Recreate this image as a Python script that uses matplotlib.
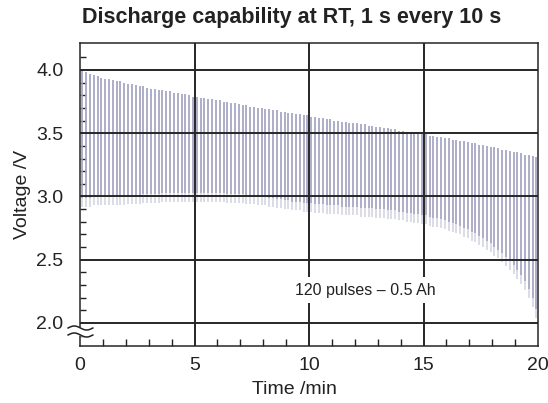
import matplotlib.pyplot as plt
import numpy as np

plt.rcParams['font.family'] = ['Liberation Sans', 'DejaVu Sans']

# rest voltage (top of each pulse) and pulse voltage (bottom), 6 pulses per minute
v_top = [3.99, 3.98, 3.97, 3.96, 3.95, 3.94,
         3.93, 3.93, 3.92, 3.91, 3.91, 3.90,
         3.89, 3.89, 3.88, 3.87, 3.87, 3.86,
         3.85, 3.85, 3.84, 3.84, 3.83, 3.83,
         3.82, 3.82, 3.81, 3.81, 3.80, 3.79,
         3.79, 3.78, 3.78, 3.77, 3.77, 3.76,
         3.76, 3.75, 3.75, 3.74, 3.74, 3.73,
         3.72, 3.72, 3.71, 3.71, 3.70, 3.70,
         3.69, 3.69, 3.68, 3.68, 3.67, 3.67,
         3.66, 3.66, 3.65, 3.65, 3.64, 3.64,
         3.63, 3.63, 3.62, 3.62, 3.61, 3.61,
         3.60, 3.60, 3.59, 3.59, 3.58, 3.58,
         3.58, 3.57, 3.57, 3.56, 3.56, 3.55,
         3.55, 3.54, 3.54, 3.53, 3.53, 3.52,
         3.52, 3.51, 3.51, 3.50, 3.50, 3.49,
         3.49, 3.48, 3.48, 3.47, 3.47, 3.46,
         3.46, 3.45, 3.45, 3.44, 3.44, 3.43,
         3.42, 3.42, 3.41, 3.41, 3.40, 3.39,
         3.39, 3.38, 3.37, 3.37, 3.36, 3.35,
         3.35, 3.34, 3.33, 3.33, 3.32, 3.31]

v_bottom = [2.92, 2.92, 2.92, 2.93, 2.93, 2.93,
            2.93, 2.93, 2.93, 2.93, 2.93, 2.93,
            2.94, 2.94, 2.94, 2.94, 2.95, 2.95,
            2.95, 2.95, 2.95, 2.96, 2.96, 2.96,
            2.96, 2.96, 2.96, 2.96, 2.96, 2.96,
            2.96, 2.96, 2.96, 2.96, 2.96, 2.96,
            2.96, 2.96, 2.95, 2.95, 2.95, 2.95,
            2.95, 2.94, 2.94, 2.94, 2.93, 2.93,
            2.93, 2.92, 2.92, 2.91, 2.91, 2.90,
            2.90, 2.89, 2.89, 2.89, 2.88, 2.88,
            2.88, 2.87, 2.87, 2.87, 2.86, 2.86,
            2.86, 2.86, 2.85, 2.85, 2.85, 2.85,
            2.85, 2.84, 2.84, 2.84, 2.84, 2.83,
            2.83, 2.83, 2.82, 2.82, 2.82, 2.81,
            2.81, 2.80, 2.80, 2.79, 2.79, 2.78,
            2.78, 2.77, 2.76, 2.76, 2.75, 2.74,
            2.73, 2.72, 2.71, 2.70, 2.68, 2.67,
            2.65, 2.64, 2.62, 2.60, 2.58, 2.56,
            2.53, 2.51, 2.48, 2.45, 2.42, 2.39,
            2.35, 2.31, 2.26, 2.20, 2.13, 2.04]

# one pulse every 10 s
t_pulse = np.arange(len(v_top)) / 6 + 0.1

x_ticks = [0, 5, 10, 15, 20]
y_ticks = [2.0, 2.5, 3.0, 3.5, 4.0]

fig = plt.figure(figsize=(5.48, 4.03), dpi=100)
ax = fig.add_axes([80/548, 57/403, 458/548, 303/403])

top = np.array(v_top)
bot = np.array(v_bottom)
tail = 0.07
ax.vlines(t_pulse, bot, top, color='#d6d6e2', lw=1.2, zorder=1)
ax.vlines(t_pulse, bot + tail, top, color='#a6a6c4', lw=1.2, zorder=2)

ax.set_xlim(0, 20)
ax.set_ylim(1.818, 4.213)
ax.set_xticks(x_ticks)
ax.set_yticks(y_ticks)
ax.set_yticklabels(['%.1f' % v for v in y_ticks])
ax.set_xticks(np.arange(0, 21, 1), minor=True)
ax.set_yticks(np.arange(1.9, 4.2, 0.1), minor=True)

for v in y_ticks:
    ax.axhline(v, color='#262626', lw=1.4, zorder=3)
for t in x_ticks[1:-1]:
    ax.axvline(t, color='#262626', lw=1.4, zorder=3)

ax.tick_params(axis='both', which='both', direction='in', top=False, right=False,
               colors='#222222', labelsize=14)
ax.tick_params(axis='y', which='major', length=0, pad=12)
ax.tick_params(axis='y', which='minor', length=4.5, width=1)
ax.tick_params(axis='x', which='major', length=0, pad=8)
ax.tick_params(axis='x', which='minor', length=5, width=1)
for s in ax.spines.values():
    s.set_color('#262626')
    s.set_linewidth(1.1)
    s.set_zorder(4)

ax.text(12.45, 2.26, '120 pulses \u2013 0.5 Ah', ha='center', va='center', fontsize=11.5,
        color='#222222', zorder=5,
        bbox=dict(facecolor='white', edgecolor='none', pad=4))

ax.set_xlabel('Time /min', fontsize=14, color='#222222', labelpad=3)
ax.xaxis.set_label_coords(0.469, -0.115)
ax.set_ylabel('Voltage /V', fontsize=14, color='#222222', labelpad=4)
fig.text(0.533, 0.957, 'Discharge capability at RT, 1 s every 10 s', ha='center',
         va='center', fontsize=15.5, fontweight='bold', color='#222222')

# axis break mark on the left spine
xs = np.linspace(-0.026, 0.028, 40)
wave = 0.0066 * np.sin((xs - xs[0]) / (xs[-1] - xs[0]) * 2 * np.pi)
y1 = 0.0594 + wave
y2 = 0.0363 + wave
ax.fill_between(xs, y2, y1, color='white', transform=ax.transAxes, clip_on=False, zorder=6)
ax.plot(xs, y1, color='#222222', lw=1.1, transform=ax.transAxes, clip_on=False, zorder=7)
ax.plot(xs, y2, color='#222222', lw=1.1, transform=ax.transAxes, clip_on=False, zorder=7)

fig.savefig('out.png', dpi=100)
